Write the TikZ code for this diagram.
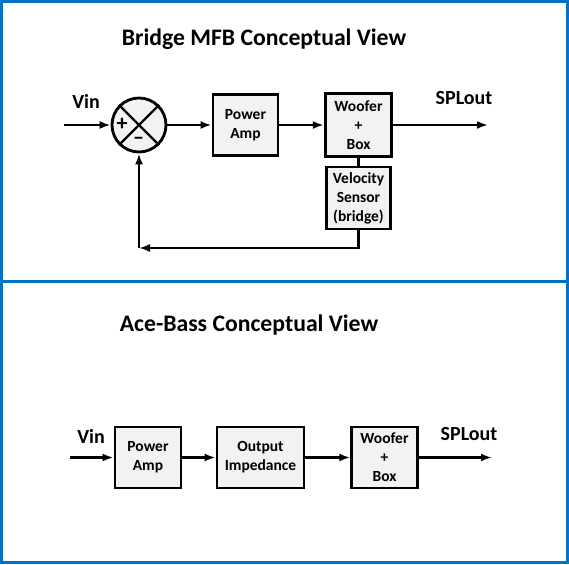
\documentclass[tikz,border=0pt]{standalone}
\usepackage{fontspec}
\setmainfont{Carlito}
\usetikzlibrary{arrows.meta}
\definecolor{frameblue}{RGB}{0,114,198}
\definecolor{boxfill}{RGB}{242,242,242}
\begin{document}
\begin{tikzpicture}[x=1pt,y=-1pt,
  blk/.style={draw=black,line width=2.8pt,fill=boxfill,inner sep=0pt,align=center,
    font=\bfseries\fontsize{15.5}{19}\selectfont},
  conn/.style={line width=2.5pt,-{Latex[length=11pt,width=8pt]}},
  plainconn/.style={line width=2.5pt},
  lbl/.style={font=\bfseries\fontsize{20}{22}\selectfont,inner sep=0pt},
  sgn/.style={font=\bfseries\fontsize{22}{22}\selectfont,inner sep=0pt},
  ttl/.style={font=\bfseries\fontsize{23.7}{26}\selectfont,inner sep=0pt,anchor=base}]
\useasboundingbox (0,0) rectangle (569,564);
% frame
\draw[frameblue,line width=2.6pt] (1.3,1.3) rectangle (567.7,562.7);
\draw[frameblue,line width=3pt] (1.3,281) -- (567.7,281);
% ---- top diagram ----
\node[ttl] (t1) at (264,46) {Bridge MFB Conceptual View};
\node[draw=black,line width=2.8pt,fill=boxfill,circle,minimum size=54pt,inner sep=0pt] (sum) at (139,125) {};
\draw[line width=2.2pt] (sum.north west) -- (sum.south east);
\draw[line width=2.2pt] (sum.north east) -- (sum.south west);
\node[sgn] (plus) at (122,124.5) {+};
\node[sgn] (minus) at (138.5,141) {–};
\node[blk,minimum width=65pt,minimum height=61pt] (pa) at (245.5,125) {Power\\Amp};
\node[blk,minimum width=66.5pt,minimum height=63pt] (wf) at (358.5,125) {Woofer\\+\\Box};
\node[blk,minimum width=63.5pt,minimum height=62pt] (vs) at (358.5,198) {Velocity\\Sensor\\(bridge)};
\node[lbl] (vin1) at (86,101) {Vin};
\node[lbl] (spl1) at (464,98) {SPLout};
\coordinate (in1) at (64,125);
\coordinate (out1) at (488,125);
\coordinate (fb) at (139,248);
\draw[conn] (in1) -- (sum.west);
\draw[conn] (sum.east) -- (pa.west);
\draw[conn] (pa.east) -- (wf.west);
\draw[conn] (wf.east) -- (out1);
\draw[plainconn] (wf.south) -- (vs.north);
\draw[conn] (vs.south) |- (fb);
\draw[conn] (fb) -- (sum.south);
% ---- bottom diagram ----
\node[ttl] (t2) at (249,331) {Ace-Bass Conceptual View};
\node[blk,minimum width=66pt,minimum height=61pt] (pa2) at (148,457.5) {Power\\Amp};
\node[blk,minimum width=87pt,minimum height=61pt] (oi) at (260.5,457.5) {Output\\Impedance};
\node[blk,minimum width=65.5pt,minimum height=61pt] (wf2) at (384.5,457.5) {Woofer\\+\\Box};
\node[lbl] (vin2) at (91,436) {Vin};
\node[lbl] (spl2) at (469,434) {SPLout};
\coordinate (in2) at (70,457.5);
\coordinate (out2) at (492,457.5);
\draw[conn] (in2) -- (pa2.west);
\draw[conn] (pa2.east) -- (oi.west);
\draw[conn] (oi.east) -- (wf2.west);
\draw[conn] (wf2.east) -- (out2);
\end{tikzpicture}
\end{document}
